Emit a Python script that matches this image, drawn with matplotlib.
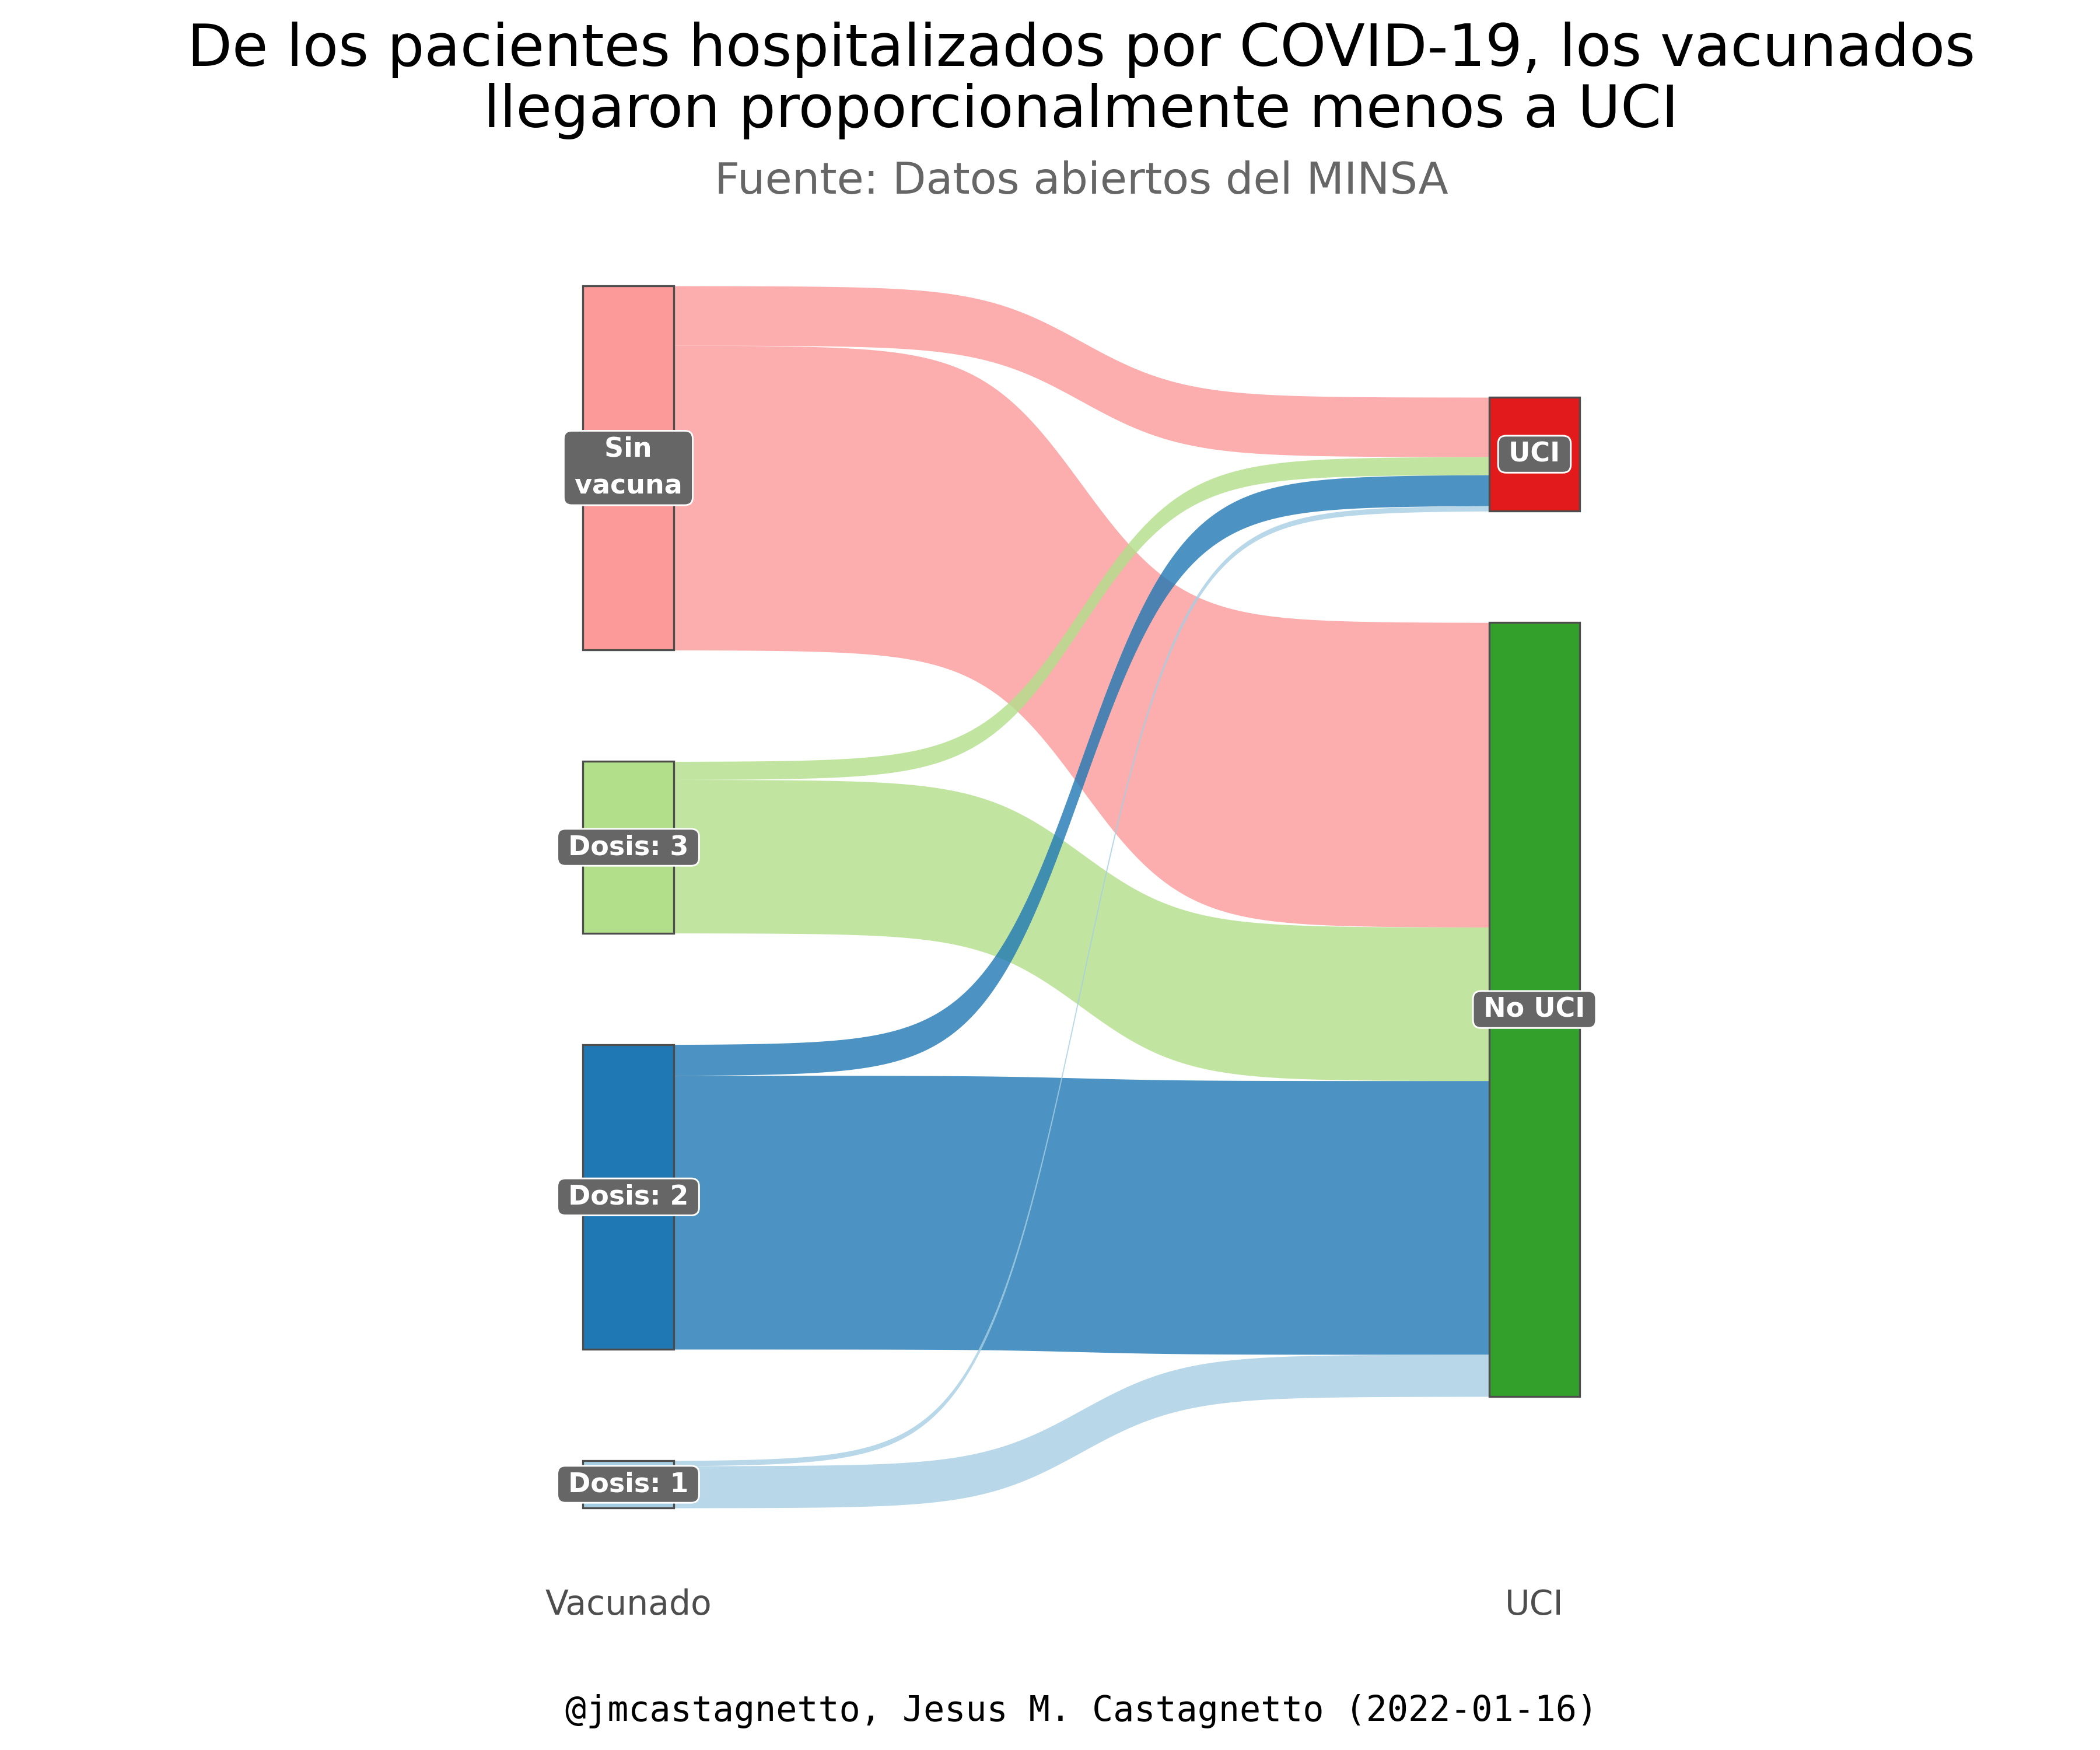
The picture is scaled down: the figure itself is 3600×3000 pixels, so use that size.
import numpy as np
import matplotlib
matplotlib.use('Agg')
import matplotlib.pyplot as plt

# datos
vacunado = ['Sin vacuna', 'Dosis: 3', 'Dosis: 2', 'Dosis: 1']
vacunado_labels = ['Sin\nvacuna', 'Dosis: 3', 'Dosis: 2', 'Dosis: 1']
uci = ['UCI', 'No UCI']
n_uci = [1020, 310, 530, 90]
n_no_uci = [5220, 2630, 4690, 720]

vac_colors = ['#FB9A99', '#B2DF8A', '#1F78B4', '#A6CEE3']
uci_colors = ['#E31A1C', '#33A02C']

axis_names = ['Vacunado', 'UCI']
title = ('De los pacientes hospitalizados por COVID-19, los vacunados\n'
         'llegaron proporcionalmente menos a UCI')
subtitle = 'Fuente: Datos abiertos del MINSA'
caption = '@jmcastagnetto, Jesus M. Castagnetto (2022-01-16)'


def flow_curve(t, k=16):
    # sigmoide normalizada: plana en los extremos, empinada al centro
    L = 1 / (1 + np.exp(-k * (t - 0.5)))
    L0 = 1 / (1 + np.exp(k * 0.5))
    return (L - L0) / (1 - 2 * L0)


flows = np.array([n_uci, n_no_uci]).T
total = flows.sum()
gap = 0.1255 * total
w = 0.1

left_sizes = flows.sum(axis=1)
right_sizes = flows.sum(axis=0)
H = total + gap * (len(vacunado) - 1)
left_tops = H - np.concatenate([[0], np.cumsum(left_sizes[:-1] + gap)])
right_h = total + gap * (len(uci) - 1)
off = (H - right_h) / 2
right_tops = off + right_h - np.concatenate([[0], np.cumsum(right_sizes[:-1] + gap)])

fig = plt.figure(figsize=(12, 10), dpi=300)
ax = fig.add_axes([0.04025, 0.09, 0.94936, 0.80])
ax.set_xlim(0.4, 2.6)
ax.set_ylim(-0.0692 * H, 1.0764 * H)
ax.axis('off')

# flujos
xs = np.linspace(1 + w / 2, 2 - w / 2, 400)
s = flow_curve((xs - xs[0]) / (xs[-1] - xs[0]))
left_cursor = left_tops.astype(float).copy()
right_cursor = right_tops.astype(float).copy()
for i in range(len(vacunado)):
    for j in range(len(uci)):
        v = flows[i, j]
        y0 = left_cursor[i]
        y1 = right_cursor[j]
        left_cursor[i] -= v
        right_cursor[j] -= v
        top = y0 + (y1 - y0) * s
        ax.fill_between(xs, top - v, top, color=vac_colors[i], alpha=0.8,
                        linewidth=0, zorder=2)

# estratos
ax.bar([1] * len(vacunado), left_sizes, width=w, bottom=left_tops - left_sizes,
       color=vac_colors, edgecolor='#4D4D4D', linewidth=0.8, zorder=3)
ax.bar([2] * len(uci), right_sizes, width=w, bottom=right_tops - right_sizes,
       color=uci_colors, edgecolor='#4D4D4D', linewidth=0.8, zorder=3)

sp = '\u2009'
label_box = dict(boxstyle='round,pad=0.2,rounding_size=0.3', fc='#666666',
                 ec='white', lw=0.7)
for i, lab in enumerate(vacunado_labels):
    ax.text(1, left_tops[i] - left_sizes[i] / 2,
            sp + lab.replace('\n', sp + '\n' + sp) + sp,
            ha='center', va='center', color='white', fontsize=11,
            fontweight='bold', bbox=label_box, zorder=5, linespacing=1.55)
for j, lab in enumerate(uci):
    ax.text(2, right_tops[j] - right_sizes[j] / 2, sp + lab + sp,
            ha='center', va='center', color='white', fontsize=11,
            fontweight='bold', bbox=label_box, zorder=5)

for k, name in enumerate(axis_names):
    ax.text(k + 1, -0.0873 * H, name, ha='center', va='baseline',
            fontsize=14, color='#4D4D4D')

fig.text(0.5149, 1 - 218 / 3000, title, ha='center', va='baseline',
         fontsize=24, linespacing=1.1)
fig.text(0.5149, 1 - 332 / 3000, subtitle, ha='center', va='baseline',
         fontsize=18, color='#666666')
fig.text(0.5149, 1 - 2950 / 3000, caption, ha='center', va='baseline',
         fontsize=14.4, family='DejaVu Sans Mono')

fig.savefig('out.png', dpi=300, facecolor='white')
